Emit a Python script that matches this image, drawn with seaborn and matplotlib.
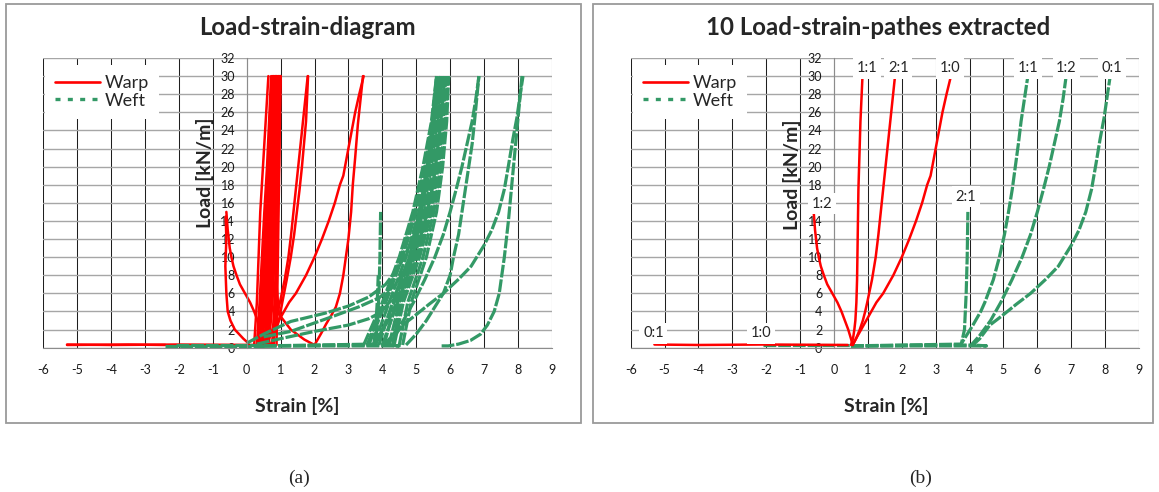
import matplotlib
matplotlib.use("Agg")
import matplotlib.pyplot as plt
from matplotlib.lines import Line2D
from matplotlib.patches import Rectangle
import pandas as pd
import seaborn as sns

# ---------------- data (strain in %, load in kN/m) ----------------
LOADS_B = [0.3, 5, 10, 15, 20, 25, 30]

# extracted paths (panel b, also contained in panel a)
WARP_11_S = [0.5, 0.56, 0.6, 0.63, 0.66, 0.68, 0.69, 0.7, 0.71, 0.72, 0.74, 0.76, 0.78, 0.81, 0.84]
WARP_11_L = [0.3, 1, 2, 3, 5, 7.5, 10, 12.5, 15, 17.5, 20, 22.5, 25, 27.5, 30]
WARP_21_S = [0.55, 0.65, 0.76, 0.85, 0.92, 0.98, 1.12, 1.23, 1.31, 1.38, 1.45, 1.52, 1.59, 1.66, 1.73, 1.8]
WARP_21_L = [0.3, 1, 2, 3, 4, 5, 7.5, 10, 12.5, 15, 17.5, 20, 22.5, 25, 27.5, 30]
WARP_10_S = [0.55, 0.65, 0.8, 0.95, 1.1, 1.25, 1.45, 1.75, 2.0, 2.22, 2.42, 2.6, 2.75, 2.85,
             2.9, 3.0, 3.1, 3.2, 3.32, 3.45]
WARP_10_L = [0.3, 1, 2, 3, 4, 5, 6, 8, 10, 12, 14, 16, 18, 19, 20, 22, 24, 26, 28, 30]
WARP_12_S = [0.55, 0.5, 0.42, 0.32, 0.22, 0.1, -0.05, -0.2, -0.3, -0.39, -0.45, -0.5, -0.53,
             -0.56, -0.58, -0.6]
WARP_12_L = [0.3, 1, 2, 3, 4, 5, 6, 7, 8, 9, 10, 11, 12, 13, 14, 15]
WARP_01_S = [-5.3, -4.0, -2.1, 0.4]
WARP_01_L = [0.35, 0.3, 0.35, 0.3]

WEFT_10_S = [-2.1, 0.5]
WEFT_10_L = [0.3, 0.3]
WEFT_11_S = [0.5, 3.75, 3.85, 4.1, 4.33, 4.45, 4.7, 4.88, 5.03, 5.15, 5.26, 5.35, 5.44, 5.52, 5.62, 5.72]
WEFT_11_L = [0.2, 0.4, 1, 2.5, 4, 5, 7.5, 10, 12.5, 15, 17.5, 20, 22.5, 25, 27.5, 30]
WEFT_12_S = [0.5, 4.05, 4.3, 4.62, 4.92, 5.25, 5.55, 5.8, 6.0, 6.18, 6.35, 6.5, 6.65, 6.76, 6.85]
WEFT_12_L = [0.2, 0.3, 1.35, 3, 5, 7.5, 10, 12.5, 15, 17.5, 20, 22.5, 25, 27.5, 30]
WEFT_01_S = [0.5, 4.5, 4.1, 4.3, 4.6, 4.95, 5.38, 5.8, 6.26, 6.62, 7.0, 7.23, 7.43, 7.6, 7.73,
             7.85, 7.97, 8.07, 8.15]
WEFT_01_L = [0.2, 0.2, 0.3, 1, 2.5, 3.5, 4.8, 6, 7.6, 9, 11.3, 13, 15, 17.5, 20.3, 23, 25.4, 28, 30]
WEFT_21_S = [0.5, 3.75, 3.85, 3.9, 3.93, 3.95]
WEFT_21_L = [0.2, 0.3, 2, 6, 10, 15]

# additional cycles shown only in panel a
WARP_B1 = [0.22, 0.3, 0.35, 0.4, 0.48, 0.56, 0.64]
WARP_B2 = [0.3, 0.38, 0.45, 0.52, 0.6, 0.66, 0.72]
WARP_B3 = [0.35, 0.45, 0.53, 0.6, 0.66, 0.72, 0.78]
WARP_B4 = [0.4, 0.52, 0.6, 0.66, 0.72, 0.78, 0.83]
WARP_B5 = [0.45, 0.58, 0.66, 0.72, 0.77, 0.82, 0.87]
WARP_B6 = [0.5, 0.64, 0.72, 0.77, 0.82, 0.86, 0.9]
WARP_B7 = [0.58, 0.7, 0.77, 0.82, 0.86, 0.9, 0.93]
WARP_B8 = [0.65, 0.76, 0.82, 0.86, 0.9, 0.93, 0.96]
WARP_B9 = [0.75, 0.82, 0.87, 0.9, 0.93, 0.96, 0.99]
WARP_B10 = [0.88, 0.9, 0.92, 0.94, 0.96, 0.98, 1.0]
WARP_B11 = [0.38, 0.5, 0.58, 0.65, 0.7, 0.75, 0.8]
WARP_B12 = [0.55, 0.6, 0.68, 0.74, 0.8, 0.85, 0.88]
WARP_B13 = [0.42, 0.55, 0.63, 0.7, 0.75, 0.8, 0.86]
WARP_B14 = [0.6, 0.73, 0.79, 0.84, 0.88, 0.92, 0.95]
WARP_B15 = [0.33, 0.42, 0.5, 0.57, 0.63, 0.7, 0.76]
WARP_B16 = [0.8, 0.86, 0.9, 0.92, 0.95, 0.97, 0.99]
WARP_21B_S = [0.7, 0.78, 0.87, 0.95, 1.05, 1.18, 1.3, 1.4, 1.48, 1.56, 1.63, 1.69, 1.75, 1.81]
WARP_21B_L = [0.3, 1, 2, 3, 5, 7.5, 10, 12.5, 15, 17.5, 20, 22.5, 25, 30]
WARP_X_S = [0.88, 0.95, 1.3, 1.7, 2.0, 2.2, 2.34, 2.5, 2.63, 2.75, 2.85, 3.0, 3.08, 3.13, 3.2,
            3.28, 3.36, 3.43]
WARP_X_L = [7.0, 3.7, 2.0, 0.9, 0.3, 1.6, 2.6, 3.6, 4.5, 6.0, 8.0, 12, 15, 18, 21, 24.7, 27.5, 30]
WARP_12B_S = [0.05, -0.1, -0.35, -0.48, -0.56, -0.6, -0.63, -0.6, -0.62]
WARP_12B_L = [0.5, 1, 2, 3, 4, 6, 9, 12, 14.5]
WARP_01B_S = [-5.3, -3.5, -2.4]
WARP_01B_L = [0.3, 0.35, 0.3]

WEFT_B1 = [3.45, 4.0, 4.5, 4.9, 5.2, 5.45, 5.6]
WEFT_B2 = [3.6, 4.1, 4.6, 5.0, 5.28, 5.5, 5.65]
WEFT_B3 = [3.75, 4.2, 4.7, 5.08, 5.35, 5.55, 5.68]
WEFT_B4 = [3.9, 4.3, 4.8, 5.15, 5.42, 5.6, 5.72]
WEFT_B5 = [4.05, 4.4, 4.9, 5.25, 5.5, 5.65, 5.75]
WEFT_B6 = [4.2, 4.5, 5.0, 5.35, 5.58, 5.72, 5.8]
WEFT_B7 = [4.35, 4.62, 5.1, 5.45, 5.65, 5.8, 5.88]
WEFT_B8 = [4.5, 4.75, 5.2, 5.52, 5.72, 5.85, 5.93]
WEFT_B9 = [4.6, 4.85, 5.3, 5.6, 5.78, 5.9, 5.96]
WEFT_B10 = [3.8, 4.35, 4.85, 5.2, 5.45, 5.62, 5.75]
WEFT_B11 = [4.0, 4.45, 4.95, 5.3, 5.52, 5.68, 5.78]
WEFT_B12 = [3.55, 4.05, 4.55, 4.95, 5.25, 5.47, 5.62]
WEFT_B13 = [4.3, 4.55, 5.05, 5.4, 5.62, 5.76, 5.85]
WEFT_10B_S = [-2.4, 0.5]
WEFT_10B_L = [0.2, 0.2]
WEFT_01B_S = [5.75, 5.95, 6.25, 6.6, 6.9, 7.1, 7.3, 7.45, 7.6, 7.72, 7.82, 7.92, 8.02, 8.12]
WEFT_01B_L = [0.2, 0.2, 0.4, 0.8, 1.5, 2.5, 4, 6, 10, 14, 18, 22, 26, 30]
WEFT_12B_S = [4.7, 5.0, 5.3, 5.55, 5.8, 6.0, 6.1, 6.25, 6.35, 6.45, 6.55, 6.65, 6.72, 6.85]
WEFT_12B_L = [0.3, 1.5, 3, 4.5, 6, 8, 10, 12.5, 15, 17.5, 20, 22.5, 25, 30]
WEFT_G1_S = [0.0, 0.5, 1.3, 2.3, 3.0, 3.6, 4.1, 4.5, 4.9, 5.2, 5.45, 5.65]
WEFT_G1_L = [0.5, 1.5, 2.9, 3.8, 4.6, 5.6, 7.0, 9.0, 12, 16, 22, 30]
WEFT_G2_S = [0.5, 1.3, 2.5, 3.3, 3.9, 4.4, 4.8, 5.2, 5.5, 5.7, 5.85]
WEFT_G2_L = [1.2, 1.8, 3.4, 4.5, 5.5, 7.0, 9.5, 13, 18, 24, 30]
WEFT_G3_S = [0.3, 1.0, 2.0, 3.0, 3.6, 4.0, 4.4, 4.8, 5.1, 5.4, 5.6]
WEFT_G3_L = [0.4, 1.0, 1.8, 2.5, 3.2, 4.0, 6, 10, 15, 22, 30]
WEFT_V2_S = [3.75, 3.8, 3.85, 3.88]
WEFT_V2_L = [0.3, 2, 5, 8]

X_TICKS = list(range(-6, 10))
Y_TICKS = list(range(0, 33, 2))
SERIES = ["Warp", "Weft"]

# ratio labels of panel b: (text, strain, load)
RATIO_TEXT = ["1:1", "2:1", "1:0", "1:1", "1:2", "0:1", "1:2", "2:1", "0:1", "1:0"]
RATIO_S = [0.97, 1.9, 3.42, 5.73, 6.86, 8.19, -0.36, 3.89, -5.33, -2.15]
RATIO_L = [30.9, 30.9, 30.9, 30.9, 30.9, 30.9, 15.9, 16.7, 1.6, 1.6]

RED = "#FF0000"
GREEN = "#339966"

extracted = [
    ("Warp", WARP_11_S, WARP_11_L), ("Warp", WARP_21_S, WARP_21_L),
    ("Warp", WARP_10_S, WARP_10_L), ("Warp", WARP_12_S, WARP_12_L),
    ("Warp", WARP_01_S, WARP_01_L),
    ("Weft", WEFT_10_S, WEFT_10_L), ("Weft", WEFT_11_S, WEFT_11_L),
    ("Weft", WEFT_12_S, WEFT_12_L), ("Weft", WEFT_01_S, WEFT_01_L),
    ("Weft", WEFT_21_S, WEFT_21_L),
]
extra = [("Warp", s, LOADS_B) for s in [WARP_B1, WARP_B2, WARP_B3, WARP_B4, WARP_B5, WARP_B6,
                                        WARP_B7, WARP_B8, WARP_B9, WARP_B10, WARP_B11, WARP_B12,
                                        WARP_B13, WARP_B14, WARP_B15, WARP_B16]]
extra += [("Warp", WARP_21B_S, WARP_21B_L), ("Warp", WARP_X_S, WARP_X_L),
          ("Warp", WARP_12B_S, WARP_12B_L), ("Warp", WARP_01B_S, WARP_01B_L)]
extra += [("Weft", s, LOADS_B) for s in [WEFT_B1, WEFT_B2, WEFT_B3, WEFT_B4, WEFT_B5, WEFT_B6,
                                        WEFT_B7, WEFT_B8, WEFT_B9, WEFT_B10, WEFT_B11,
                                        WEFT_B12, WEFT_B13]]
extra += [("Weft", WEFT_10B_S, WEFT_10B_L), ("Weft", WEFT_01B_S, WEFT_01B_L),
          ("Weft", WEFT_12B_S, WEFT_12B_L), ("Weft", WEFT_G1_S, WEFT_G1_L),
          ("Weft", WEFT_G2_S, WEFT_G2_L), ("Weft", WEFT_G3_S, WEFT_G3_L),
          ("Weft", WEFT_V2_S, WEFT_V2_L)]


def to_frame(curves):
    rows = []
    for i, (d, s, l) in enumerate(curves):
        for k, (x, y) in enumerate(zip(s, l)):
            rows.append({"strain": x, "load": y, "dir": d, "curve": i, "order": k})
    return pd.DataFrame(rows)


# ---------------- figure ----------------
sns.set_style("white")
plt.rcParams["font.family"] = ["Lato", "DejaVu Sans"]
plt.rcParams["axes.unicode_minus"] = False

W, H = 1159, 492
fig = plt.figure(figsize=(W / 100, H / 100), dpi=100)

# panel frames
fig.add_artist(Rectangle((6 / W, 1 - 423 / H), (581 - 6) / W, (423 - 4) / H,
                         transform=fig.transFigure, fill=False, ec="#9a9a9a", lw=1.3))
fig.add_artist(Rectangle((593 / W, 1 - 423 / H), (1153 - 593) / W, (423 - 4) / H,
                         transform=fig.transFigure, fill=False, ec="#9a9a9a", lw=1.3))

y_bot, y_top = 347.7, 58.0
axL = fig.add_axes([43.3 / W, (H - y_bot) / H, 508.5 / W, (y_bot - y_top) / H])
axR = fig.add_axes([630.7 / W, (H - y_bot) / H, 508.3 / W, (y_bot - y_top) / H])

panels = [
    (axL, extra + extracted, "Load-strain-diagram", (0.5186, 1.0759), (0.4997, -0.2012), (0.318, 0.603)),
    (axR, extracted, "10 Load-strain-pathes extracted", (0.4865, 1.0759), (0.503, -0.2012), (0.3167, 0.596)),
]

for ax, curves, title, tpos, xlpos, ylpos in panels:
    df = to_frame(curves)
    sns.lineplot(data=df, x="strain", y="load", hue="dir", style="dir", size="dir",
                 units="curve", estimator=None, sort=False, hue_order=SERIES,
                 palette={"Warp": RED, "Weft": GREEN},
                 dashes={"Warp": "", "Weft": (4, 0.6)},
                 sizes={"Warp": 1.8, "Weft": 2.3},
                 legend=False, ax=ax)
    ax.set_xlim(-6, 9)
    ax.set_ylim(0, 32)
    ax.set_xticks(X_TICKS)
    ax.set_yticks(Y_TICKS)
    ax.set_axisbelow(True)
    ax.grid(axis="x", color="#1f1f1f", lw=0.75)
    ax.grid(axis="y", color="#a6a6a6", lw=1.0)
    for sp in ["top", "right"]:
        ax.spines[sp].set_visible(False)
    ax.spines["left"].set_position(("data", 0))
    ax.spines["left"].set_color("#8c8c8c")
    ax.spines["bottom"].set_color("#8c8c8c")
    ax.tick_params(axis="y", length=0, pad=8.4, labelsize=9, labelcolor="#1a1a1a")
    ax.tick_params(axis="x", length=3, width=0.8, color="#8c8c8c", pad=9.0,
                   labelsize=9, labelcolor="#1a1a1a")

    ax.set_title(title, fontsize=17.3, fontweight="bold", y=tpos[1], va="center")
    ax.title.set_x(tpos[0])
    ax.set_xlabel("Strain [%]", fontsize=14, fontweight="bold")
    ax.xaxis.set_label_coords(*xlpos)
    ax.xaxis.label.set_va("center")
    ax.set_ylabel("Load [kN/m]", fontsize=14, fontweight="bold")
    ax.yaxis.set_label_coords(*ylpos)
    ax.yaxis.label.set_va("center")

    handles = [Line2D([], [], color=RED, lw=1.9),
               Line2D([], [], color=GREEN, lw=2.4, dashes=(1.5, 2.2))]
    leg = ax.legend(handles, SERIES, loc="upper left", bbox_to_anchor=(0.0043, 0.976),
                    borderaxespad=0, fontsize=13, handlelength=2.49, handletextpad=0.26,
                    labelspacing=0.1, borderpad=0.55, frameon=True, fancybox=False)
    leg.get_frame().set_facecolor("white")
    leg.get_frame().set_edgecolor("none")
    leg.get_frame().set_alpha(1)

# warp on top in panel b
for ln in axR.lines:
    if ln.get_color() in (RED, "#ff0000", "#FF0000"):
        ln.set_zorder(3)

for t, s, l in zip(RATIO_TEXT, RATIO_S, RATIO_L):
    axR.text(s, l, t, fontsize=10.5, ha="center", va="center", zorder=4,
             bbox=dict(boxstyle="square,pad=0.25", fc="white", ec="none"))

fig.text(299 / W, 1 - 478 / H, "(a)", fontsize=14, family="Liberation Serif", ha="center", va="center")
fig.text(921 / W, 1 - 478 / H, "(b)", fontsize=14, family="Liberation Serif", ha="center", va="center")

fig.savefig("out.png", dpi=100, facecolor="white")
